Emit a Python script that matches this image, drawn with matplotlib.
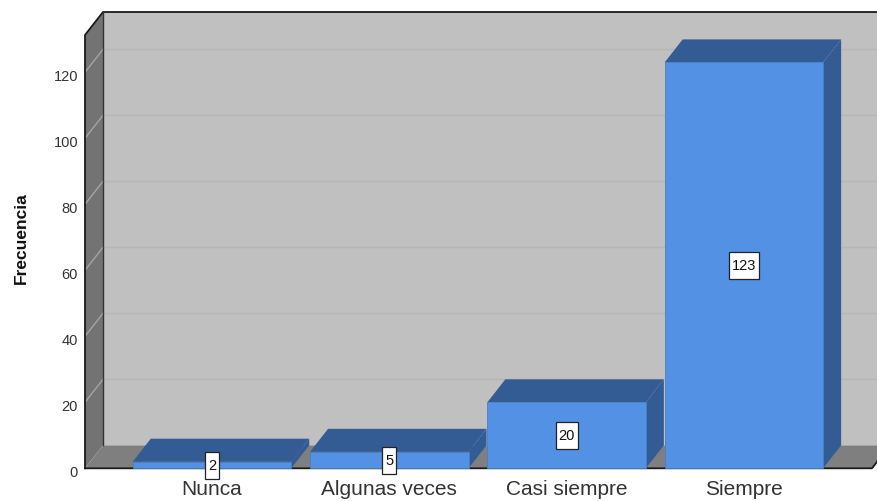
import matplotlib
matplotlib.use("Agg")
from matplotlib import pyplot as plt
from matplotlib.patches import Polygon
from matplotlib.path import Path
from matplotlib.transforms import ScaledTranslation

# frecuencia por categoria
categorias = ["Nunca", "Algunas veces", "Casi siempre", "Siempre"]
frecuencia = [2, 5, 20, 123]
ticks_y = [0, 20, 40, 60, 80, 100, 120]

plt.rcParams["font.family"] = ["Liberation Sans", "DejaVu Sans"]

W, H = 878, 502
fig = plt.figure(figsize=(W / 100, H / 100), dpi=100)
# caja frontal del grafico en pixeles: x 85-872, y 36-469
base = 469.3
ax = fig.add_axes([85 / W, (H - base) / H, (872 - 85) / W, (base - 36) / H])

px_x = 177.3          # pixeles por categoria
px_y = 3.3            # pixeles por unidad
ax.set_xlim((85 - 212) / px_x, (872 - 212) / px_x)
ax.set_ylim(0, (base - 36) / px_y)
x0, x1 = ax.get_xlim()
y0, y1 = ax.get_ylim()

# profundidad 3D
dx = 18 / px_x
dy = 23 / px_y
ancho = 158.5 / px_x

for s in ax.spines.values():
    s.set_visible(False)
ax.patch.set_visible(False)


def poli(puntos, color, z, ec="none", lw=0):
    ax.add_patch(Polygon(puntos, closed=True, fc=color, ec=ec, lw=lw, zorder=z, clip_on=False))


def caja(bx, by, w, h, mutation_size):
    # caja de etiqueta, mas alta que ancha
    px = 2.8
    py = 6.5
    return Path([(bx - px, by - py), (bx + w + px, by - py), (bx + w + px, by + h + py),
                 (bx - px, by + h + py), (bx - px, by - py)], closed=True)


# paredes y suelo
poli([(x0 + dx, dy), (x1 + dx, dy), (x1 + dx, y1 + dy), (x0 + dx, y1 + dy)], "#c0c0c0", 1)
poli([(x0, 0), (x0 + dx, dy), (x0 + dx, y1 + dy), (x0, y1)], "#737373", 1)
poli([(x0, 0), (x1, 0), (x1 + dx, dy), (x0 + dx, dy)], "#7f7f7f", 1)

# rejilla
for t in ticks_y[1:]:
    ax.plot([x0, x0 + dx], [t, t + dy], color="#a4a4a4", lw=1, zorder=2, clip_on=False)
    ax.plot([x0 + dx, x1 + dx], [t + dy, t + dy], color="#b5b5b5", lw=1, zorder=2, clip_on=False)

# marco negro
negro = dict(color="#1a1a1a", lw=1.3, zorder=3, clip_on=False)
ax.plot([x0, x0, x0 + dx, x1 + dx], [0, y1, y1 + dy, y1 + dy], **negro)
ax.plot([x0 + dx, x0 + dx], [dy, y1 + dy], color="#333333", lw=1, zorder=3, clip_on=False)
ax.plot([x0, x1, x1 + dx], [0, 0, dy], **negro)

# barras
pos = range(len(categorias))
for i, v in zip(pos, frecuencia):
    a = i - ancho / 2
    b = i + ancho / 2
    z = 4 + i
    poli([(b, 0), (b + dx, dy), (b + dx, v + dy), (b, v)], "#345c94", z)
    poli([(a, v), (b, v), (b + dx, v + dy), (a + dx, v + dy)], "#345c94", z)
    ax.bar(i, v, width=ancho, color="#5291e3", edgecolor="#4a7fc4", linewidth=0.6, zorder=z, clip_on=False)
    ax.text(i, v / 2, str(v), ha="center", va="center", fontsize=10.5, color="#111111", zorder=10,
            bbox=dict(boxstyle=caja, fc="white", ec="#222222", lw=0.9), clip_on=False)

ax.set_xticks(list(pos))
ax.set_xticklabels(categorias, fontsize=15, color="#333333")
ax.set_yticks(ticks_y)
ax.tick_params(axis="x", length=0, pad=7.5)
ax.tick_params(axis="y", length=0, pad=5, labelsize=10.5, labelcolor="#333333")

# las etiquetas del eje y van un poco por debajo de la linea
bajar = ScaledTranslation(0, -2.5 / 100, fig.dpi_scale_trans)
for lab in ax.get_yticklabels():
    lab.set_transform(lab.get_transform() + bajar)

fig.text(21 / W, 1 - 238 / H, "Frecuencia", rotation=90, ha="center", va="center",
         fontsize=12.5, fontweight="bold", color="#111111")

fig.savefig("out.png", dpi=100)
